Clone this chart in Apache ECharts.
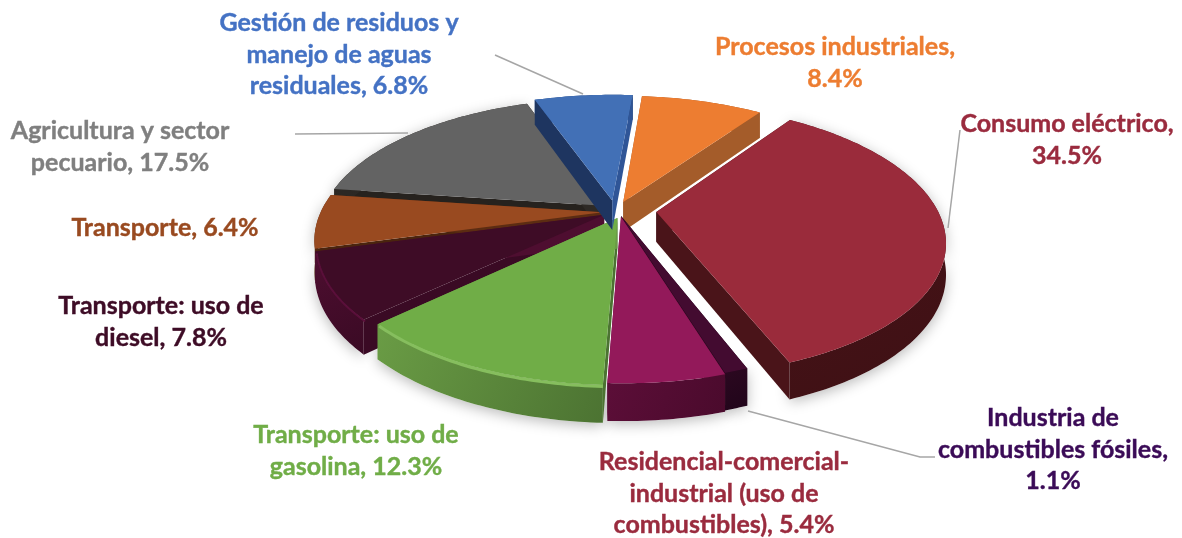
<!DOCTYPE html>
<html><head><meta charset="utf-8">
<style>html,body{margin:0;padding:0;background:#fff}#c{width:1182px;height:538px}</style>
<script src="https://cdn.jsdelivr.net/npm/echarts@6/dist/echarts.min.js"></script>
</head><body><div id="c"></div>
<script>
// ---- data (clockwise from the first slice)
const categories = ['Procesos industriales','Consumo eléctrico','Industria de combustibles fósiles','Residencial-comercial-industrial (uso de combustibles)','Transporte: uso de gasolina','Transporte: uso de diesel','Transporte','Agricultura y sector pecuario','Gestión de residuos y manejo de aguas residuales'];
const values = [8.4,34.5,1.1,5.4,12.3,7.8,6.4,17.5,6.8];
const labelLines = [
 ['Procesos industriales,','8.4%'],
 ['Consumo eléctrico,','34.5%'],
 ['Industria de','combustibles fósiles,','1.1%'],
 ['Residencial-comercial-','industrial (uso de','combustibles), 5.4%'],
 ['Transporte: uso de','gasolina, 12.3%'],
 ['Transporte: uso de','diesel, 7.8%'],
 ['Transporte, 6.4%'],
 ['Agricultura y sector','pecuario, 17.5%'],
 ['Gestión de residuos y','manejo de aguas','residuales, 6.8%']
];
// ---- styling / layout
const explode = [.085,.15,.039,.044,.047,.04,.04,.06,.09];
const explodeDir = [23,90,140,146,165,240,268,322,356];
const zBoost = [0,0,0,0,0,0,0,0,400];
const topColors = ['#ED7D31','#9A2B3B','#430B30','#93195A','#70AD47','#3E0C26','#994A20','#636363','#4270B6'];
const wallTop = ['#A45C2A','#4A1419','#2C0820','#5C0E38','#6A9C45','#4E0E30','#5C2C12','#2E2A26','#2F5597'];
const wallBot = ['#9A5526','#3E1014','#20051A','#4A0A2C','#4C7332','#3A0A24','#4A240E','#26221E','#1E3560'];
const edgeColors = [null,null,null,null,'#86BE5E','#5A0F3A',null,null,null];
const labelColors = ['#ED7D31','#9A2B3E','#3B0B57','#9A2B3E','#70AD47','#3E0C26','#994A20','#7F7F7F','#4472C4'];
const labelPos = [[835,47],[1067,124],[1053,418],[724,462],[356,435],[161,306],[165,228],[120,131],[339,23]];
const leaderLines = [
 [[495,55],[583,94]],
 [[295,134],[408,133]],
 [[948,228],[960,130]],
 [[748,411],[920,457],[935,457]]
];
const cx=614, cy=212, R=282, Rt=131, k=.2, depth=30, firstAngle=5, fontSize=25, lineH=31.5;

const total = values.reduce((a,b)=>a+b,0);
const rad = d=>d*Math.PI/180;
function P(u,v,d){const s=1/(1-k*v);return [cx+R*u*s, cy+Rt*v*s+(d||0)*s];}
let acc = firstAngle;
const spans = values.map(v=>{const a=acc; acc+=v/total*360; return [a,acc];});

function renderItem(params, api){
  const i = params.dataIndex;
  const val = api.value(0);
  const a0 = spans[i][0], a1 = a0 + val/total*360, mid=(a0+a1)/2;
  const ou = explode[i]*Math.sin(rad(explodeDir[i])), ov = -explode[i]*Math.cos(rad(explodeDir[i]));
  const pt=(a,r,d)=>P(ou+r*Math.sin(rad(a)), ov-r*Math.cos(rad(a)), d);
  const arc=[], n=Math.max(6,Math.ceil(a1-a0));
  for(let j=0;j<=n;j++) arc.push(a0+(a1-a0)*j/n);
  const z = Math.round(-Math.cos(rad(mid))*100)+200+zBoost[i];
  const wallZ = Math.cos(rad(mid))>0.7 ? 2 : z+1;
  const wallFill = {type:'linear',x:0,y:0,x2:1,y2:1,colorStops:[{offset:0,color:wallTop[i]},{offset:1,color:wallBot[i]}]};
  const apex=pt(0,0,0), apexD=pt(0,0,depth);
  const poly=(pts,fill,zz,extra)=>({type:'polygon',z2:zz,shape:{points:pts},style:Object.assign({fill:fill,stroke:null},extra||{})});
  const outerTop=arc.map(a=>pt(a,1,0));
  const outerBot=arc.map(a=>pt(a,1,depth));
  const wallPts=outerTop.concat(outerBot.slice().reverse());
  const children=[
    poly(wallPts,wallZ===2?'rgba(0,0,0,0)':'#fff',1,wallZ===2?{}:{shadowBlur:14,shadowColor:'rgba(0,0,0,.28)',shadowOffsetY:3}),
    poly([apex,outerTop[0],outerBot[0],apexD],wallBot[i],z),
    poly([apex,outerTop[n],outerBot[n],apexD],wallTop[i],z),
    poly(wallPts,wallFill,wallZ),
    poly([apex].concat(outerTop),topColors[i],z+2)
  ];
  if(edgeColors[i]) children.push({type:'polyline',z2:z+3,shape:{points:arc.map(a=>pt(a,.995,2))},style:{fill:null,stroke:edgeColors[i],lineWidth:i===4?3:2}});
  return {type:'group',children:children};
}

const chart = echarts.init(document.getElementById('c'),null,{renderer:'canvas'});
const graphics=[];
leaderLines.forEach(l=>graphics.push({type:'polyline',silent:true,z:5,shape:{points:l},style:{fill:null,stroke:'#A6A6A6',lineWidth:1.5}}));
labelLines.forEach((ls,i)=>ls.forEach((t,j)=>graphics.push({type:'text',silent:true,z:6,x:labelPos[i][0],y:labelPos[i][1]+j*lineH,
  style:{text:t,fill:labelColors[i],stroke:labelColors[i],lineWidth:.4,font:'700 '+fontSize+'px Lato',textAlign:'center',textVerticalAlign:'middle'}})));
chart.setOption({
  animation:false,
  graphic:graphics,
  series:[{type:'custom',coordinateSystem:'none',silent:true,renderItem:renderItem,
    data:categories.map((c,i)=>({name:c,value:[values[i]]}))}]
});
</script></body></html>
